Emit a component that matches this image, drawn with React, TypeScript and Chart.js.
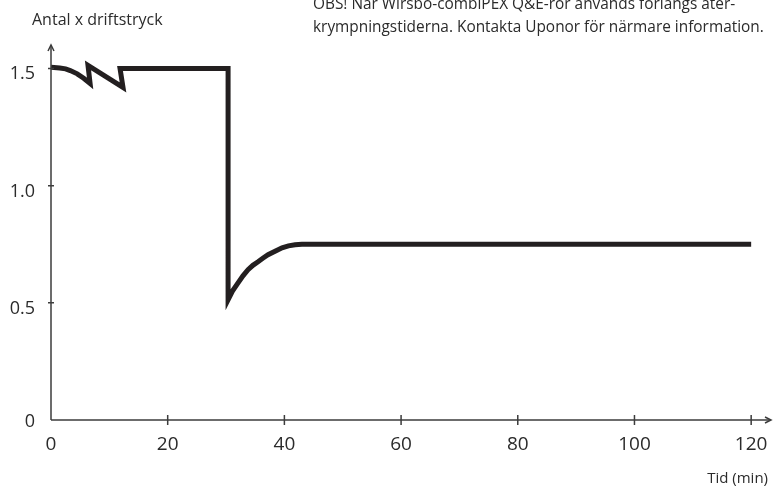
import React, { useEffect, useRef } from "react";
import { Chart, registerables } from "chart.js";

Chart.register(...registerables);

// Time (min) and pressure factor (Antal x driftstryck)
const times = [
  0, 1.5, 2.5, 3.3, 4.5, 5.6, 6.7, 6.34, 12.34, 11.83, 30.35, 30.35, 31.1, 32.06, 32.9, 33.77, 34.6,
  35.49, 36.3, 37.2, 38.4, 39.6, 40.7, 41.83, 43, 120,
];
const values = [
  1.505, 1.502, 1.498, 1.491, 1.477, 1.458, 1.436, 1.513, 1.419, 1.5, 1.5, 0.513, 0.55, 0.585, 0.615,
  0.641, 0.66, 0.675, 0.69, 0.705, 0.72, 0.735, 0.743, 0.748, 0.75, 0.75,
];

const xTicks = [0, 20, 40, 60, 80, 100, 120];
const xTickLabels = ["0", "20", "40", "60", "80", "100", "120"];
const yTicks = [0, 0.5, 1.0, 1.5];
const yTickLabels = ["0", "0.5", "1.0", "1.5"];

const yTitle = "Antal x driftstryck";
const xTitle = "Tid (min)";
const noteLines = [
  "OBS! När Wirsbo-combiPEX Q&E-rör används förlängs åter-",
  "krympningstiderna. Kontakta Uponor för närmare information.",
];

const FONT = "'Open Sans', 'DejaVu Sans', sans-serif";
const AXIS_COLOR = "#3c3c3c";
const TEXT_COLOR = "#2b2b2b";

const decorPlugin = {
  id: "decor",
  afterDraw(chart: any) {
    const { ctx, chartArea, scales } = chart;
    const xs = scales.x;
    const ys = scales.y;
    const x0 = xs.getPixelForValue(0);
    const y0 = ys.getPixelForValue(0);
    const xEnd = chartArea.right;
    const yTop = chartArea.top;
    ctx.save();
    ctx.strokeStyle = AXIS_COLOR;
    ctx.lineWidth = 1.5;
    ctx.lineCap = "butt";
    ctx.beginPath();
    ctx.moveTo(x0, y0);
    ctx.lineTo(x0, yTop);
    ctx.moveTo(x0, y0);
    ctx.lineTo(xEnd, y0);
    ctx.stroke();
    ctx.beginPath();
    ctx.moveTo(x0 - 3, yTop + 6);
    ctx.lineTo(x0, yTop);
    ctx.lineTo(x0 + 3, yTop + 6);
    ctx.moveTo(xEnd - 6, y0 - 3);
    ctx.lineTo(xEnd, y0);
    ctx.lineTo(xEnd - 6, y0 + 3);
    ctx.stroke();
    ctx.beginPath();
    xTicks.forEach((t) => {
      if (t === 0) return;
      const px = xs.getPixelForValue(t);
      ctx.moveTo(px, y0 - 5);
      ctx.lineTo(px, y0 + 5);
    });
    yTicks.forEach((t) => {
      if (t === 0) return;
      const py = ys.getPixelForValue(t);
      ctx.moveTo(x0 - 3, py);
      ctx.lineTo(x0 + 3, py);
    });
    ctx.stroke();

    ctx.fillStyle = TEXT_COLOR;
    ctx.textBaseline = "alphabetic";
    ctx.font = `19px ${FONT}`;
    ctx.textAlign = "center";
    xTicks.forEach((t, i) => {
      ctx.fillText(xTickLabels[i], xs.getPixelForValue(t), 450);
    });
    ctx.font = `18px ${FONT}`;
    ctx.textAlign = "right";
    yTicks.forEach((t, i) => {
      const py = ys.getPixelForValue(t);
      ctx.fillText(yTickLabels[i], 35, py + (t === 0 ? 7 : 11));
    });

    ctx.textBaseline = "middle";
    ctx.textAlign = "left";
    ctx.font = `16px ${FONT}`;
    ctx.fillText(yTitle, 32, 20);
    ctx.font = `15.4px ${FONT}`;
    ctx.fillText(noteLines[0], 313, 5);
    ctx.fillText(noteLines[1], 313, 28);
    ctx.font = `15px ${FONT}`;
    ctx.textAlign = "right";
    ctx.fillText(xTitle, 768, 479);
    ctx.restore();
  },
};

export default function App() {
  const ref = useRef<HTMLCanvasElement>(null);
  useEffect(() => {
    if (!ref.current) return;
    const chart = new Chart(ref.current, {
      type: "line",
      data: {
        datasets: [
          {
            data: times.map((t, i) => ({ x: t, y: values[i] })),
            borderColor: "#231f20",
            borderWidth: 5,
            borderJoinStyle: "miter",
            borderCapStyle: "butt",
            pointRadius: 0,
            tension: 0,
            fill: false,
          },
        ],
      },
      options: {
        animation: false,
        responsive: false,
        layout: { padding: { left: 0, right: 2, top: 45, bottom: 0 } },
        plugins: { legend: { display: false }, tooltip: { enabled: false } },
        scales: {
          x: {
            type: "linear",
            min: 0,
            max: 123.4,
            afterBuildTicks: (s: any) => {
              s.ticks = xTicks.map((v) => ({ value: v }));
            },
            afterFit: (s: any) => {
              s.height = 67;
              s.paddingLeft = 0;
              s.paddingRight = 0;
            },
            grid: { display: false, drawTicks: false },
            border: { display: false },
            ticks: { display: false },
          },
          y: {
            type: "linear",
            min: 0,
            max: 1.6,
            afterBuildTicks: (s: any) => {
              s.ticks = yTicks.map((v) => ({ value: v }));
            },
            afterFit: (s: any) => {
              s.width = 51;
              s.paddingTop = 0;
              s.paddingBottom = 0;
            },
            grid: { display: false, drawTicks: false },
            border: { display: false },
            ticks: { display: false },
          },
        },
      },
      plugins: [decorPlugin],
    } as any);
    return () => chart.destroy();
  }, []);
  return (
    <canvas
      ref={ref}
      width={773}
      height={487}
      style={{ position: "absolute", left: 0, top: 0, width: 773, height: 487 }}
    />
  );
}
